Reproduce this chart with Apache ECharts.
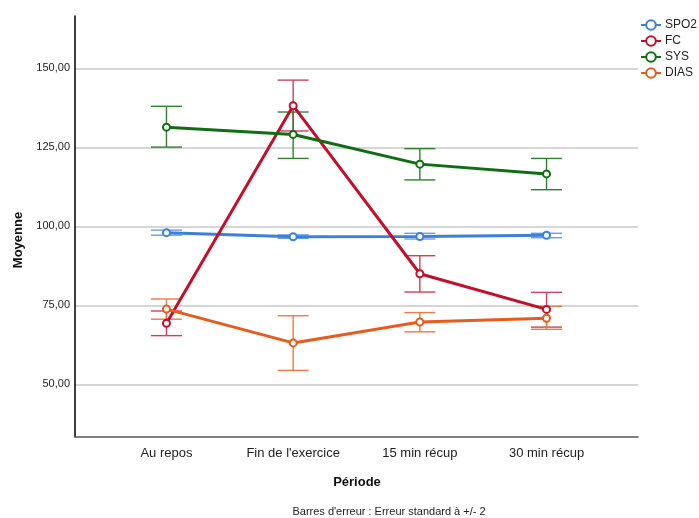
<!DOCTYPE html>
<html>
<head>
<meta charset="utf-8">
<script src="https://cdn.jsdelivr.net/npm/echarts@6/dist/echarts.min.js"></script>
<style>
  html, body { margin: 0; padding: 0; background: #fff; }
  #chart { width: 699px; height: 518px; }
</style>
</head>
<body>
<div id="chart"></div>
<script>
// Periods on the x axis
const periods = ['Au repos', "Fin de l'exercice", '15 min récup', '30 min récup'];

// Means per variable
const spo2Mean = [98.0, 96.7, 96.8, 97.2];
const fcMean   = [69.3, 138.2, 85.0, 73.7];
const sysMean  = [131.4, 129.1, 119.7, 116.6];
const diasMean = [73.8, 63.1, 69.7, 70.9];

// Error bar bounds (mean +/- 2 SE)
const spo2Low  = [97.2, 96.2, 96.0, 96.4];
const spo2High = [98.8, 97.3, 97.8, 97.8];
const fcLow    = [65.4, 130.2, 79.2, 68.1];
const fcHigh   = [73.2, 146.3, 90.7, 79.1];
const sysLow   = [125.1, 121.5, 114.7, 111.6];
const sysHigh  = [138.0, 136.2, 124.6, 121.5];
const diasLow  = [70.6, 54.4, 66.6, 67.4];
const diasHigh = [77.0, 71.7, 72.7, 74.7];

// Y tick labels
const yTicks = [50, 75, 100, 125, 150];

const variables = [
  { name: 'SPO2', mean: spo2Mean, low: spo2Low, high: spo2High, color: '#3d80d8', bar: '#6b9fe4' },
  { name: 'FC',   mean: fcMean,   low: fcLow,   high: fcHigh,   color: '#c2102c', bar: '#c8435c' },
  { name: 'SYS',  mean: sysMean,  low: sysLow,  high: sysHigh,  color: '#0f6e14', bar: '#2f7f33' },
  { name: 'DIAS', mean: diasMean, low: diasLow, high: diasHigh, color: '#e45c1e', bar: '#ea7a48' }
];

const FONT = '"Liberation Sans", Arial, sans-serif';

function errorBarSeries(v) {
  return {
    type: 'custom',
    name: v.name + ' err',
    silent: true,
    z: 2,
    encode: { x: 0, y: [1, 2] },
    data: periods.map((p, i) => [i, v.low[i], v.high[i]]),
    renderItem: function (params, api) {
      const x = api.value(0);
      const lo = api.coord([x, api.value(1)]);
      const hi = api.coord([x, api.value(2)]);
      const hw = 15.5;
      const style = { stroke: v.bar, lineWidth: 1.4 };
      return {
        type: 'group',
        children: [
          { type: 'line', shape: { x1: lo[0], y1: lo[1], x2: hi[0], y2: hi[1] }, style: style },
          { type: 'line', shape: { x1: lo[0] - hw, y1: lo[1], x2: lo[0] + hw, y2: lo[1] }, style: style },
          { type: 'line', shape: { x1: hi[0] - hw, y1: hi[1], x2: hi[0] + hw, y2: hi[1] }, style: style }
        ]
      };
    }
  };
}

function lineSeries(v) {
  return {
    type: 'line',
    name: v.name,
    z: 3,
    data: periods.map((p, i) => [i, v.mean[i]]),
    symbol: 'emptyCircle',
    symbolSize: 7,
    itemStyle: { color: v.color, borderWidth: 1 },
    lineStyle: { color: v.color, width: 3 },
    emphasis: { disabled: true }
  };
}

const series = [];
variables.forEach(v => series.push(errorBarSeries(v)));
variables.forEach(v => series.push(lineSeries(v)));

const chart = echarts.init(document.getElementById('chart'), null, { renderer: 'canvas' });
chart.setOption({
  animation: false,
  backgroundColor: '#ffffff',
  color: variables.map(v => v.color),
  grid: { left: 75, right: 61, top: 16, bottom: 81.3 },
  legend: {
    data: variables.map(v => v.name),
    orient: 'vertical',
    left: 635,
    top: 14,
    itemWidth: 20,
    itemHeight: 12,
    itemGap: 4,
    textStyle: { fontFamily: FONT, fontSize: 12, color: '#222', padding: [0, 0, 0, -1] },
    selectedMode: false
  },
  xAxis: {
    type: 'value',
    min: -0.722,
    max: 3.722,
    axisLine: { show: true, onZero: false, lineStyle: { color: '#555', width: 1.5 } },
    axisTick: { show: false, customValues: [0, 1, 2, 3] },
    splitLine: { show: false },
    axisLabel: {
      customValues: [0, 1, 2, 3],
      formatter: v => periods[Math.round(v)],
      fontFamily: FONT,
      fontSize: 13,
      color: '#222',
      margin: 10
    }
  },
  yAxis: {
    type: 'value',
    min: 33.4,
    max: 166.6,
    axisLine: { show: true, onZero: false, lineStyle: { color: '#000', width: 1.5 } },
    axisTick: { show: false, customValues: yTicks },
    splitLine: { show: true, lineStyle: { color: '#c8c8c8', width: 1.5 } },
    axisLabel: {
      customValues: yTicks,
      formatter: v => v.toFixed(2).replace('.', ','),
      fontFamily: FONT,
      fontSize: 11,
      color: '#222',
      margin: 5
    }
  },
  graphic: [
    {
      type: 'text',
      x: 18, y: 240,
      rotation: Math.PI / 2,
      style: { text: 'Moyenne', font: 'bold 13px ' + FONT, fill: '#111', align: 'center', verticalAlign: 'middle' }
    },
    {
      type: 'text',
      x: 357, y: 482,
      style: { text: 'Période', font: 'bold 13px ' + FONT, fill: '#111', align: 'center', verticalAlign: 'middle' }
    },
    {
      type: 'text',
      x: 389, y: 512,
      style: { text: "Barres d'erreur : Erreur standard à +/- 2", font: '11px ' + FONT, fill: '#222', align: 'center', verticalAlign: 'middle' }
    }
  ],
  series: series
});
</script>
</body>
</html>
